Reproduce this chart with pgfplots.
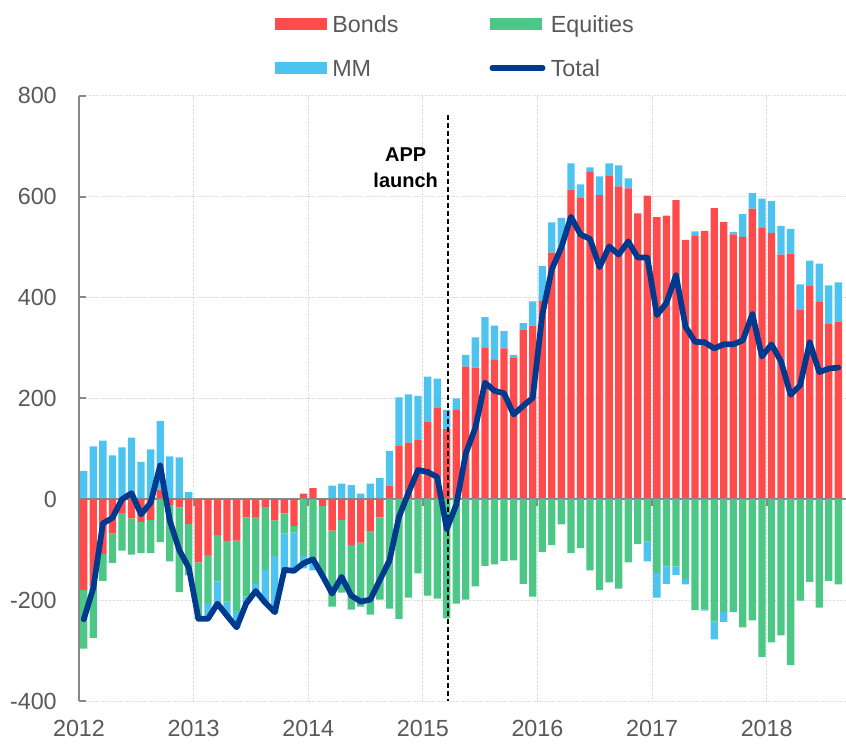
\documentclass[border=0pt]{standalone}
\usepackage{pgfplots}
\usepackage{pgfplotstable}
\pgfplotsset{compat=1.18}
\usepackage{fontspec}
\setmainfont{Liberation Sans}
\definecolor{bondred}{HTML}{FF4B4B}
\definecolor{eqgreen}{HTML}{4DC785}
\definecolor{mmblue}{HTML}{4DC4F0}
\definecolor{totalblue}{HTML}{003A8F}
\definecolor{axisgray}{HTML}{888888}
\definecolor{gridgray}{HTML}{D6D6D6}
\definecolor{textgray}{HTML}{595959}

\pgfplotstableread{
x b e m t
0.5 -180 -116 56 -238
1.5 -172 -103 105 -176
2.5 -109 -53 116 -48
3.5 -68 -58 87 -37
4.5 -27 -75 103 0
5.5 -38 -72 122 12
6.5 -45 -62 74 -30
7.5 -41 -66 99 -7
8.5 19 -85 136 67
9.5 -11 -112 85 -42
10.5 -16 -168 83 -101
11.5 -49 -102 14 -136
12.5 -125 -113 0 -237
13.5 -111 -95 -29 -237
14.5 -71 -92 -43 -207
15.5 -84 -119 -28 -231
16.5 -82 -140 -33 -254
17.5 -36 -157 -14 -207
18.5 -35 -133 -16 -182
19.5 -15 -125 -67 -205
20.5 -42 -71 -114 -224
21.5 -28 -40 -72 -140
22.5 -53 -13 -73 -142
23.5 11 -113 -24 -127
24.5 22 -121 -20 -119
25.5 -13 -139 0 -152
26.5 -62 -151 27 -187
27.5 -41 -144 31 -154
28.5 -91 -128 28 -191
29.5 -86 -127 11 -203
30.5 -64 -165 31 -199
31.5 -36 -163 42 -160
32.5 27 -217 69 -122
33.5 107 -237 95 -35
34.5 112 -195 96 13
35.5 117 -147 88 58
36.5 154 -191 89 54
37.5 181 -197 58 44
38.5 139 -236 38 -59
39.5 178 -207 22 -11
40.5 263 -199 23 91
41.5 261 -173 60 142
42.5 300 -132 61 231
43.5 277 -129 67 215
44.5 299 -122 34 210
45.5 281 -121 5 168
46.5 336 -168 13 185
47.5 344 -193 48 201
48.5 393 -105 69 365
49.5 489 -91 60 456
50.5 499 -50 59 499
51.5 614 -107 52 560
52.5 597 -97 27 525
53.5 649 -141 9 516
54.5 603 -180 37 460
55.5 642 -165 24 501
56.5 620 -177 42 485
57.5 616 -125 20 511
58.5 565 -89 2 479
59.5 602 -84 -39 479
60.5 559 -146 -49 365
61.5 562 -133 -35 389
62.5 593 -133 -17 444
63.5 514 -158 -11 342
64.5 522 -220 9 312
65.5 532 -219 -2 311
66.5 577 -242 -36 299
67.5 550 -224 -19 307
68.5 525 -224 5 307
69.5 520 -254 45 315
70.5 576 -240 31 367
71.5 539 -313 57 283
72.5 528 -284 63 307
73.5 485 -270 57 273
74.5 487 -329 49 207
75.5 375 -201 51 226
76.5 424 -164 49 311
77.5 392 -215 75 252
78.5 347 -162 77 259
79.5 351 -169 79 261
}\flows

\pgfplotsset{
  common/.style={
    scale only axis,
    width=575.25pt, height=454pt,
    xmin=0, xmax=80.3,
    ymin=-400, ymax=800,
    clip=true,
  },
  barleg/.style={legend image code/.code={\fill[##1] (0pt,-4.5pt) rectangle (39pt,4.5pt);}},
  lineleg/.style={legend image code/.code={\draw[##1] (2pt,0pt) -- (40pt,0pt);}},
}

\begin{document}
\begin{tikzpicture}
\useasboundingbox (-59.25pt,-37.5pt) rectangle (575.25pt,525.75pt);
% ---------- axis 1: frame, grid, legend, positive stack ----------
\begin{axis}[common,
  ybar stacked, bar width=0.765,
  axis y line*=left, axis x line*=bottom,
  x axis line style={draw=none},
  y axis line style={axisgray, line width=1.5pt},
  xtick={0,12,24,36,48,60,72},
  xticklabels={2012,2013,2014,2015,2016,2017,2018},
  ytick={-400,-200,0,200,400,600,800},
  yticklabels={-400,-200,0,200,400,600,800},
  xtick style={draw=none},
  ytick style={axisgray, line width=1.5pt},
  tick align=inside, major tick length=5.25pt,
  grid=major,
  major grid style={gridgray, line width=0.75pt, dash pattern=on 0.9pt off 0.9pt},
  tick label style={font=\fontsize{17.5}{21}\selectfont, text=textgray},
  yticklabel style={anchor=east, inner sep=0pt, xshift=-16.5pt},
  xticklabel style={anchor=north, inner sep=0pt, yshift=-14.25pt},
  legend columns=2,
  legend cell align=left,
  legend style={draw=none, fill=none, inner sep=0pt, outer sep=0pt,
    at={(0.2555,1.1345)}, anchor=north west,
    font=\fontsize{17.5}{21}\selectfont, text=textgray,
    nodes={inner sep=0pt, inner xsep=4pt, inner ysep=1pt, text height=12.6pt, text depth=0pt},
    /tikz/column sep=0pt, /tikz/row sep=18.4pt,
    /tikz/every even column/.append style={column sep=64.3pt}},
]
\addplot[fill=bondred, draw=none, barleg] table[x=x, y expr={max(\thisrow{b},0)}] {\flows};
\addlegendentry{Bonds}
\addplot[fill=eqgreen, draw=none, barleg] table[x=x, y expr={max(\thisrow{e},0)}] {\flows};
\addlegendentry{Equities}
\addplot[fill=mmblue, draw=none, barleg] table[x=x, y expr={max(\thisrow{m},0)}] {\flows};
\addlegendentry{MM}
\addlegendimage{totalblue, line width=3.9pt, line cap=round, lineleg}
\addlegendentry{Total}
\end{axis}
% ---------- axis 2: negative stack and zero line ----------
\begin{axis}[common, hide axis,
  ybar stacked, bar width=0.765,
]
\addplot[fill=bondred, draw=none] table[x=x, y expr={min(\thisrow{b},0)}] {\flows};
\addplot[fill=eqgreen, draw=none] table[x=x, y expr={min(\thisrow{e},0)}] {\flows};
\addplot[fill=mmblue, draw=none] table[x=x, y expr={min(\thisrow{m},0)}] {\flows};
\draw[axisgray, line width=1.5pt] (axis cs:0,0) -- (axis cs:80.3,0);
\pgfplotsinvokeforeach{12,24,36,48,60,72}{
  \draw[axisgray, line width=1.5pt] (axis cs:#1,0) -- ++(0pt,-5.25pt);
}
\end{axis}
% ---------- axis 3: total line and annotation ----------
\begin{axis}[common, hide axis]
\draw[black, line width=1.3pt, dash pattern=on 3.75pt off 2.25pt]
  (axis cs:38.6,761) -- (axis cs:38.6,-400);
\addplot[totalblue, line width=4.3pt, line join=round, line cap=round, mark=none]
  table[x=x, y=t] {\flows};
\node[font=\fontsize{15}{19.5}\selectfont\bfseries, align=center, inner sep=0pt]
  at (axis cs:34.2,658) {APP\\launch};
\end{axis}
\end{tikzpicture}
\end{document}
